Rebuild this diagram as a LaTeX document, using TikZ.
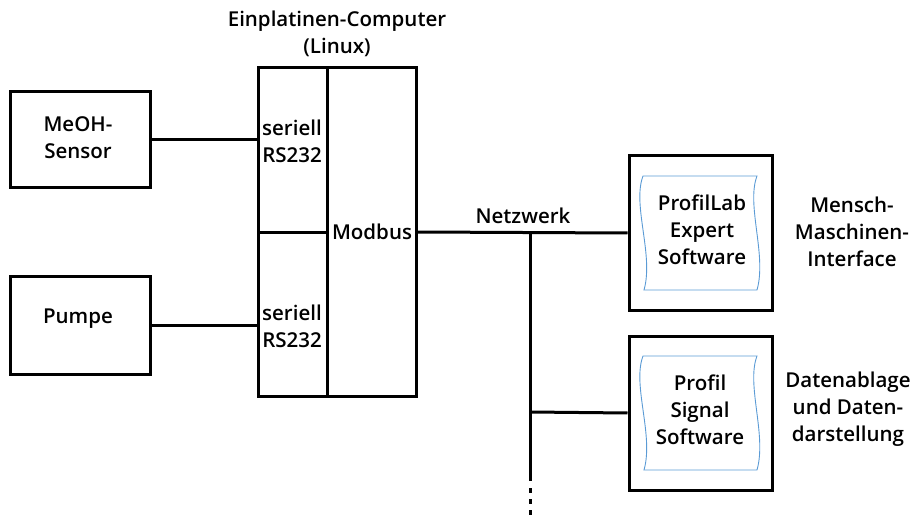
\documentclass[tikz,border=0pt]{standalone}
\usepackage{fontspec}
\setmainfont{Open Sans Semibold}
\definecolor{docblue}{RGB}{91,155,213}
\begin{document}
\begin{tikzpicture}[x=1pt,y=-1pt,
  blk/.style={draw=black,line width=3pt,inner sep=0pt},
  lbl/.style={font=\fontsize{20.5}{27}\selectfont,align=center,inner sep=0pt},
  wire/.style={line width=3pt},
  doc/.style={draw=docblue,line width=0.9pt},
]
\useasboundingbox (0,0) rectangle (914,516);
% left devices
\node[blk,minimum width=140pt,minimum height=96pt] (sensor) at (80,140) {};
\node[lbl] (sensorT) at (78,138) {MeOH-\\Sensor};
\node[blk,minimum width=140pt,minimum height=98pt] (pumpe) at (80,325) {};
\node[lbl] (pumpeT) at (78,319) {Pumpe};
% computer
\node[blk,minimum width=69pt,minimum height=165pt] (ser1) at (292.5,150.5) {};
\node[blk,minimum width=69pt,minimum height=163pt] (ser2) at (292.5,314.5) {};
\node[blk,minimum width=89pt,minimum height=328pt] (modbus) at (371.5,232) {};
\node[lbl] (ser1T) at (292,141) {seriell\\RS232};
\node[lbl] (ser2T) at (292,326) {seriell\\RS232};
\node[lbl] (modbusT) at (372,232) {Modbus};
\node[lbl] (title) at (337,34) {Einplatinen-Computer\\(Linux)};
% right boxes
\node[blk,minimum width=143pt,minimum height=154pt] (pc1) at (700.5,233) {};
\node[blk,minimum width=143pt,minimum height=154pt] (pc2) at (700.5,413) {};
\draw[doc] (643,176) .. controls (632,205) and (654,255) .. (644,290) -- (757,290)
  .. controls (767,255) and (746,205) .. (757,176) -- cycle;
\draw[doc] (643,356) .. controls (632,385) and (654,435) .. (644,470) -- (757,470)
  .. controls (767,435) and (746,385) .. (757,356) -- cycle;
\node[lbl] (pc1T) at (702,230) {ProfilLab\\Expert\\Software};
\node[lbl] (pc2T) at (700,410) {Profil\\Signal\\Software};
\node[lbl] (hmi) at (852,232) {Mensch-\\Maschinen-\\Interface};
\node[lbl] (data) at (848,409) {Datenablage\\und Daten-\\darstellung};
\node[lbl,anchor=base] (netz) at (523,224) {Netzwerk};
% connectors
\draw[wire] (sensor.east) -- (sensor.east -| ser1.west);
\draw[wire] (pumpe.east) -- (pumpe.east -| ser2.west);
\draw[wire] (modbus.east) -- (pc1.west);
\coordinate (jt) at (530,233);
\coordinate (jb) at (530,412);
\coordinate (js) at (530,481);
\coordinate (je) at (530,516);
\draw[wire] (jt) -- (js);
\draw[wire,dash pattern=on 5pt off 6pt] (js) ++(0,7) -- (je);
\draw[wire] (jb) -- (pc2.west);
\end{tikzpicture}
\end{document}
